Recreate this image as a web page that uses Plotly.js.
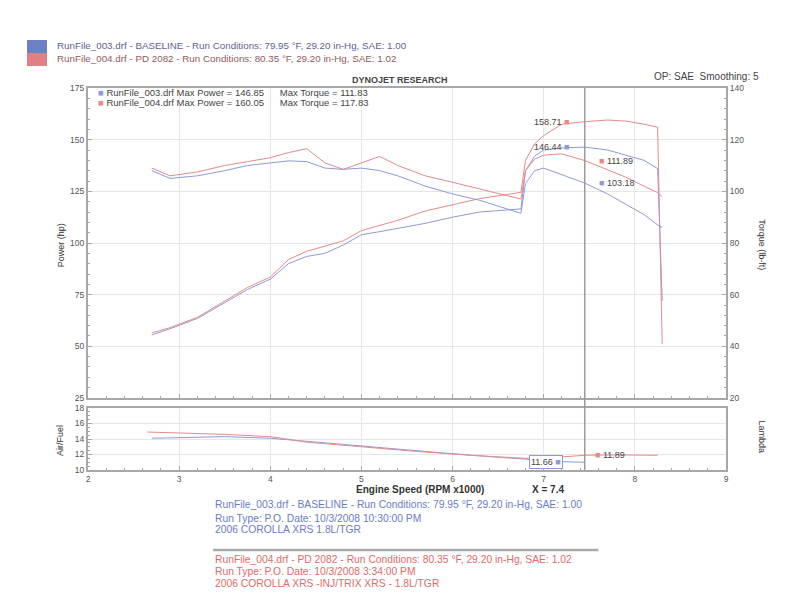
<!DOCTYPE html>
<html><head><meta charset="utf-8">
<script src="https://cdn.plot.ly/plotly-3.0.1.min.js"></script>
<style>html,body{margin:0;padding:0;background:#fff}#chart{width:800px;height:602px}</style>
</head><body><div id="chart"></div>
<script>
// ---- data ----
const rpm = [2.7, 2.9, 3.2, 3.5, 3.75, 4.0, 4.2, 4.4, 4.6, 4.8, 5.0, 5.2, 5.4, 5.7, 6.0, 6.3, 6.6, 6.75, 6.8, 6.9, 7.0, 7.2, 7.45, 7.7, 7.9, 8.1, 8.25, 8.3];
const hpBaseline = [55.5, 58.5, 63.5, 71, 77.5, 82.5, 90, 93.5, 95, 99, 104, 105.5, 107, 109.5, 112.5, 115, 116, 116.5, 135, 142, 145, 146, 146.4, 145, 142.5, 140, 136, 72];
const hpPD = [56.5, 59, 64, 72, 78.5, 83.5, 92, 96, 98.5, 101, 106, 108.5, 111, 115.5, 118.5, 121.5, 123.5, 124.5, 140, 148, 152, 157.5, 158.7, 159.5, 159, 157.5, 156, 51];
const tqBaseline = [108, 105, 106, 108, 110, 111, 111.8, 111.5, 109, 108.5, 109, 108, 106, 102, 99, 96.5, 93, 91.5, 103, 108, 109, 106.5, 103.2, 99, 95, 91, 87, 86];
const tqPD = [109, 106, 107.5, 110, 111.5, 113, 115, 116.5, 111, 108.5, 111, 113.5, 110, 106, 103.5, 101, 98.5, 97, 108, 112.5, 114, 114.5, 111.9, 108.5, 105.5, 102, 99.5, 98];
const afrRpmBaseline = [2.7, 3.0, 3.5, 4.0, 4.5, 5.0, 5.6, 6.2, 6.8, 7.1, 7.45];
const afrBaseline = [14.1, 14.2, 14.3, 14.1, 13.6, 13.1, 12.5, 11.9, 11.4, 11.1, 11.0];
const afrRpmPD = [2.65, 3.0, 3.5, 4.0, 4.4, 5.0, 5.6, 6.2, 6.8, 7.1, 7.45, 7.8, 8.25];
const afrPD = [14.9, 14.8, 14.6, 14.3, 13.6, 13.0, 12.4, 11.9, 11.5, 11.6, 11.9, 11.95, 11.9];
const xTicks = [2, 3, 4, 5, 6, 7, 8, 9];
const powerTicks = [25, 50, 75, 100, 125, 150, 175];
const torqueTicks = [20, 40, 60, 80, 100, 120, 140];
const afrTicks = [10, 12, 14, 16, 18];
const cursorRpm = 7.45;
const cursorText = "X = 7.4";
const hpCursorLabels = ["146.44", "158.71"];      // baseline, PD
const tqCursorLabels = ["103.18", "111.89"];
const afrCursorLabels = ["11.66", "11.89"];
const runNames = ["RunFile_003.drf", "RunFile_004.drf"];
const maxPower = ["146.85", "160.05"];
const maxTorque = ["111.83", "117.83"];

const BLUE = '#8e9ada', RED = '#e68a8a', TXT = '#555', GRID = '#e6e6e6', AX = '#a8a8a8';
const FONT = 'Liberation Sans, Arial, sans-serif';

function interp(xs, ys, x) {
  for (let i = 0; i < xs.length - 1; i++) {
    if (x >= xs[i] && x <= xs[i + 1]) {
      const t = (x - xs[i]) / (xs[i + 1] - xs[i]);
      return ys[i] + t * (ys[i + 1] - ys[i]);
    }
  }
  return ys[ys.length - 1];
}

const line = c => ({color: c, width: 1});
const traces = [
  {x: rpm, y: hpBaseline, xaxis: 'x2', yaxis: 'y', mode: 'lines', line: line(BLUE), name: 'HP baseline'},
  {x: rpm, y: hpPD, xaxis: 'x2', yaxis: 'y', mode: 'lines', line: line(RED), name: 'HP PD'},
  {x: rpm, y: tqBaseline, xaxis: 'x2', yaxis: 'y2', mode: 'lines', line: line(BLUE), name: 'TQ baseline'},
  {x: rpm, y: tqPD, xaxis: 'x2', yaxis: 'y2', mode: 'lines', line: line(RED), name: 'TQ PD'},
  {x: afrRpmBaseline, y: afrBaseline, xaxis: 'x', yaxis: 'y3', mode: 'lines', line: line(BLUE), name: 'AFR baseline'},
  {x: afrRpmPD, y: afrPD, xaxis: 'x', yaxis: 'y3', mode: 'lines', line: line(RED), name: 'AFR PD'}
];

const tickFont = {family: FONT, size: 8.5, color: TXT};
const baseAxis = {showline: true, linecolor: AX, linewidth: 2, mirror: true, gridcolor: GRID, gridwidth: 1,
  zeroline: false, tickfont: tickFont, ticks: 'inside', ticklen: 4, tickcolor: AX,
  minor: {ticks: 'inside', ticklen: 2, tickcolor: AX, showgrid: false}};

const sq = c => `<span style="color:${c}">■</span>`;
const ann = [];
const txt = (x, y, text, opt = {}) => ann.push(Object.assign({xref: 'paper', yref: 'paper', x, y, text, showarrow: false,
  xanchor: 'left', yanchor: 'middle', font: {family: FONT, size: 7.5, color: TXT}}, opt));

// header
txt(-0.0517, 1.110, `${runNames[0]} - BASELINE - Run Conditions: 79.95 °F, 29.20 in-Hg, SAE: 1.00`, {font: {family: FONT, size: 9.8, color: '#5a6590'}});
txt(-0.0517, 1.076, `${runNames[1]} - PD 2082 - Run Conditions: 80.35 °F, 29.20 in-Hg, SAE: 1.02`, {font: {family: FONT, size: 9.8, color: '#905a60'}});
txt(0.489, 1.021, '<b>DYNOJET RESEARCH</b>', {xanchor: 'center', font: {family: FONT, size: 9, color: '#444'}});
txt(0.884, 1.029, 'OP: SAE  Smoothing: 5', {font: {family: FONT, size: 10, color: '#444'}});
// in-plot legend
txt(0.012, 0.987, `${sq(BLUE)} ${runNames[0]} Max Power = ${maxPower[0]}      Max Torque = ${maxTorque[0]}`, {font: {family: FONT, size: 9.5, color: '#444'}});
txt(0.012, 0.961, `${sq(RED)} ${runNames[1]} Max Power = ${maxPower[1]}      Max Torque = ${maxTorque[1]}`, {font: {family: FONT, size: 9.5, color: '#444'}});
// axis titles
txt(-0.042, 0.589, 'Power (hp)', {xanchor: 'center', textangle: -90, font: {family: FONT, size: 9, color: '#333'}});
txt(1.056, 0.589, 'Torque (lb-ft)', {xanchor: 'center', textangle: 90, font: {family: FONT, size: 9, color: '#333'}});
txt(-0.044, 0.0785, 'Air/Fuel', {xanchor: 'center', textangle: -90, font: {family: FONT, size: 9, color: '#333'}});
txt(1.056, 0.086, 'Lambda', {xanchor: 'center', textangle: 90, font: {family: FONT, size: 9, color: '#333'}});
txt(0.52, -0.052, '<b>Engine Speed (RPM x1000)</b>', {xanchor: 'center', font: {family: FONT, size: 10, color: '#333'}});
txt(0.721, -0.052, '<b>' + cursorText + '</b>', {xanchor: 'center', font: {family: FONT, size: 10, color: '#333'}});
// bottom notes
const bf = c => ({font: {family: FONT, size: 10.3, color: c}});
txt(0.196, -0.0916, `${runNames[0]} - BASELINE - Run Conditions: 79.95 °F, 29.20 in-Hg, SAE: 1.00`, bf('#6a7cc4'));
txt(0.196, -0.1257, 'Run Type: P.O. Date: 10/3/2008 10:30:00 PM', bf('#6a7cc4'));
txt(0.196, -0.157, '2006 COROLLA XRS 1.8L/TGR', bf('#6a7cc4'));
txt(0.196, -0.2356, `${runNames[1]} - PD 2082 - Run Conditions: 80.35 °F, 29.20 in-Hg, SAE: 1.02`, bf('#e06a6a'));
txt(0.196, -0.267, 'Run Type: P.O. Date: 10/3/2008 3:34:00 PM', bf('#e06a6a'));
txt(0.196, -0.298, '2006 COROLLA XRS -INJ/TRIX XRS - 1.8L/TGR', bf('#e06a6a'));

// cursor value labels
const cf = {family: FONT, size: 9, color: '#444'};
ann.push({xref: 'x2', yref: 'y', x: cursorRpm, y: interp(rpm, hpPD, cursorRpm), text: `${hpCursorLabels[1]} ${sq(RED)}`, showarrow: false, xanchor: 'right', xshift: -14, font: cf});
ann.push({xref: 'x2', yref: 'y', x: cursorRpm, y: interp(rpm, hpBaseline, cursorRpm), text: `${hpCursorLabels[0]} ${sq(BLUE)}`, showarrow: false, xanchor: 'right', xshift: -14, font: cf});
ann.push({xref: 'x2', yref: 'y2', x: cursorRpm, y: interp(rpm, tqPD, cursorRpm), text: `${sq(RED)} ${tqCursorLabels[1]}`, showarrow: false, xanchor: 'left', xshift: 12, font: cf});
ann.push({xref: 'x2', yref: 'y2', x: cursorRpm, y: interp(rpm, tqBaseline, cursorRpm), text: `${sq(BLUE)} ${tqCursorLabels[0]}`, showarrow: false, xanchor: 'left', xshift: 12, font: cf});
ann.push({xref: 'x', yref: 'y3', x: cursorRpm, y: interp(afrRpmBaseline, afrBaseline, cursorRpm), text: `${afrCursorLabels[0]} ${sq(BLUE)}`, showarrow: false, xanchor: 'right', xshift: -22, font: cf, bordercolor: BLUE, borderwidth: 1, borderpad: 1, bgcolor: '#fff'});
ann.push({xref: 'x', yref: 'y3', x: cursorRpm, y: interp(afrRpmPD, afrPD, cursorRpm), text: `${sq(RED)} ${afrCursorLabels[1]}`, showarrow: false, xanchor: 'left', xshift: 8, font: cf});

const layout = {
  width: 800, height: 602, paper_bgcolor: '#fff', plot_bgcolor: '#fff', showlegend: false,
  margin: {l: 88, r: 74, t: 88, b: 132},
  font: {family: FONT},
  xaxis: Object.assign({}, baseAxis, {domain: [0, 1], anchor: 'y3', range: [2, 9], tickvals: xTicks, minor: {ticks: 'inside', ticklen: 2, tickcolor: AX, dtick: 0.2, showgrid: false}}),
  xaxis2: Object.assign({}, baseAxis, {domain: [0, 1], anchor: 'y', range: [2, 9], tickvals: xTicks, showticklabels: false, matches: 'x', minor: {ticks: 'inside', ticklen: 2, tickcolor: AX, dtick: 0.2, showgrid: false}}),
  yaxis: Object.assign({}, baseAxis, {domain: [0.1885, 1], anchor: 'x2', range: [25, 175], tickvals: powerTicks, mirror: false, minor: {ticks: 'inside', ticklen: 2, tickcolor: AX, dtick: 5, showgrid: false}}),
  yaxis2: Object.assign({}, baseAxis, {overlaying: 'y', side: 'right', anchor: 'x2', range: [20, 140], tickvals: torqueTicks, showgrid: false, mirror: false, minor: {ticks: 'inside', ticklen: 2, tickcolor: AX, dtick: 4, showgrid: false}}),
  yaxis3: Object.assign({}, baseAxis, {domain: [0, 0.1623], anchor: 'x', range: [10, 18], tickvals: afrTicks, minor: {ticks: 'inside', ticklen: 2, tickcolor: AX, dtick: 0.5, showgrid: false}}),
  annotations: ann,
  shapes: [
    {type: 'line', xref: 'x', yref: 'paper', x0: cursorRpm, x1: cursorRpm, y0: 0, y1: 1, line: {color: '#9a9a9a', width: 1.5}},
    {type: 'rect', xref: 'paper', yref: 'paper', x0: -0.0956, x1: -0.0643, y0: 1.0916, y1: 1.1257, fillcolor: '#6f7fc4', line: {width: 0}},
    {type: 'rect', xref: 'paper', yref: 'paper', x0: -0.0956, x1: -0.0643, y0: 1.0576, y1: 1.0916, fillcolor: '#e07f86', line: {width: 0}},
    {type: 'line', xref: 'paper', yref: 'paper', x0: 0.196, x1: 0.80, y0: -0.2094, y1: -0.2094, line: {color: '#aaaaaa', width: 2.5}}
  ]
};

Plotly.newPlot('chart', traces, layout, {displayModeBar: false, staticPlot: true});
</script>
</body></html>
